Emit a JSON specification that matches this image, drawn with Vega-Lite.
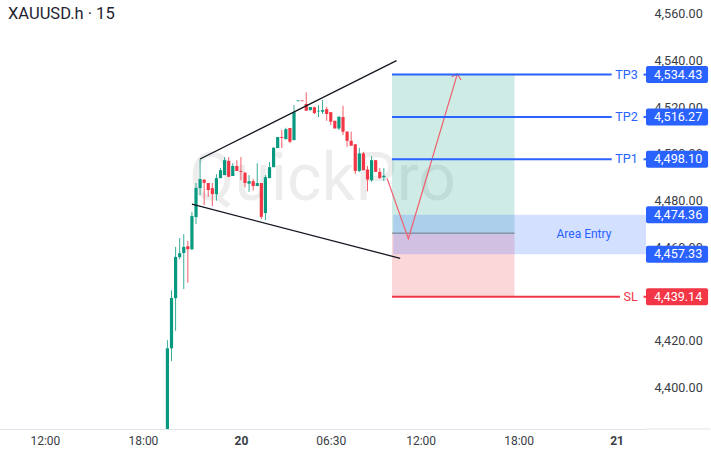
{
  "$schema": "https://vega.github.io/schema/vega-lite/v6.json",
  "description": "XAUUSD 15 minute candles with a trade plan drawn over them.",
  "width": 646,
  "height": 429,
  "autosize": "none",
  "padding": {"left": 0, "top": 0, "right": 65, "bottom": 27},
  "background": "white",
  "title": {
    "text": "XAUUSD.h · 15",
    "anchor": "start",
    "frame": "group",
    "dx": 8,
    "dy": 26,
    "font": "Roboto",
    "fontSize": 16.5,
    "fontWeight": "normal",
    "color": "#1f2430"
  },
  "config": {
    "view": {"stroke": null},
    "font": "Roboto"
  },
  "datasets": {
    "candles": [
      {"x": 30, "open": 4375, "high": 4420.1, "low": 4370, "close": 4416.6},
      {"x": 31, "open": 4416.6, "high": 4441.5, "low": 4411.1, "close": 4438.2},
      {"x": 32, "open": 4438.1, "high": 4460.1, "low": 4424.1, "close": 4455.8},
      {"x": 33, "open": 4455.7, "high": 4463.9, "low": 4454.8, "close": 4457.4},
      {"x": 34, "open": 4457.5, "high": 4465.6, "low": 4442.0, "close": 4460.1},
      {"x": 35, "open": 4460.4, "high": 4462.7, "low": 4444.7, "close": 4459.1},
      {"x": 36, "open": 4459.1, "high": 4475.1, "low": 4458.7, "close": 4473.3},
      {"x": 37, "open": 4472.9, "high": 4487.5, "low": 4469.9, "close": 4485.4},
      {"x": 38, "open": 4485.3, "high": 4497.8, "low": 4482.3, "close": 4489.2},
      {"x": 39, "open": 4488.9, "high": 4489.2, "low": 4478.0, "close": 4487.6},
      {"x": 40, "open": 4487.5, "high": 4487.5, "low": 4481.6, "close": 4484.5},
      {"x": 41, "open": 4485.3, "high": 4487.5, "low": 4477.6, "close": 4482.7},
      {"x": 42, "open": 4482.7, "high": 4491.3, "low": 4479.9, "close": 4489.6},
      {"x": 43, "open": 4489.6, "high": 4493.9, "low": 4489.6, "close": 4493.0},
      {"x": 44, "open": 4490.9, "high": 4498.6, "low": 4490.9, "close": 4497.3},
      {"x": 45, "open": 4497.0, "high": 4498.6, "low": 4490.0, "close": 4490.2},
      {"x": 46, "open": 4490.5, "high": 4496.0, "low": 4490.5, "close": 4494.8},
      {"x": 47, "open": 4494.8, "high": 4497.3, "low": 4492.7, "close": 4492.7},
      {"x": 48, "open": 4492.7, "high": 4498.6, "low": 4488.7, "close": 4492.3},
      {"x": 49, "open": 4491.9, "high": 4492.2, "low": 4485.7, "close": 4487.5},
      {"x": 50, "open": 4487.2, "high": 4490.9, "low": 4483.7, "close": 4488.3},
      {"x": 51, "open": 4488.3, "high": 4489.2, "low": 4484.2, "close": 4486.2},
      {"x": 52, "open": 4486.2, "high": 4496.0, "low": 4486.2, "close": 4487.5},
      {"x": 53, "open": 4487.5, "high": 4487.5, "low": 4472.0, "close": 4473.0},
      {"x": 54, "open": 4474.6, "high": 4490.9, "low": 4471.6, "close": 4490.0},
      {"x": 55, "open": 4489.6, "high": 4496.5, "low": 4489.6, "close": 4494.3},
      {"x": 56, "open": 4494.3, "high": 4502.9, "low": 4494.3, "close": 4502.6},
      {"x": 57, "open": 4502.5, "high": 4507.2, "low": 4502.5, "close": 4507.2},
      {"x": 58, "open": 4507.2, "high": 4510.2, "low": 4502.5, "close": 4506.8},
      {"x": 59, "open": 4506.3, "high": 4511.2, "low": 4506.3, "close": 4510.6},
      {"x": 60, "open": 4511.1, "high": 4511.1, "low": 4504.6, "close": 4505.2},
      {"x": 61, "open": 4505.9, "high": 4520.9, "low": 4505.9, "close": 4517.9},
      {"x": 62, "open": 4522.6, "high": 4522.9, "low": 4522.6, "close": 4522.9},
      {"x": 63, "open": 4522.9, "high": 4522.9, "low": 4522.6, "close": 4522.6},
      {"x": 64, "open": 4521.4, "high": 4526.4, "low": 4518.4, "close": 4518.5},
      {"x": 65, "open": 4518.8, "high": 4520.1, "low": 4518.5, "close": 4520.1},
      {"x": 66, "open": 4520.0, "high": 4520.2, "low": 4517.1, "close": 4517.5},
      {"x": 67, "open": 4518.2, "high": 4520.9, "low": 4515.8, "close": 4518.5},
      {"x": 68, "open": 4518.1, "high": 4523.1, "low": 4517.1, "close": 4518.8},
      {"x": 69, "open": 4519.2, "high": 4520.2, "low": 4514.2, "close": 4517.1},
      {"x": 70, "open": 4517.9, "high": 4517.9, "low": 4512.4, "close": 4513.8},
      {"x": 71, "open": 4514.2, "high": 4514.2, "low": 4510.9, "close": 4510.9},
      {"x": 72, "open": 4510.9, "high": 4516.2, "low": 4510.2, "close": 4515.9},
      {"x": 73, "open": 4515.8, "high": 4520.6, "low": 4508.1, "close": 4509.5},
      {"x": 74, "open": 4509.5, "high": 4509.8, "low": 4503.0, "close": 4505.6},
      {"x": 75, "open": 4505.6, "high": 4509.5, "low": 4503.5, "close": 4503.5},
      {"x": 76, "open": 4504.1, "high": 4504.2, "low": 4491.3, "close": 4492.7},
      {"x": 77, "open": 4492.7, "high": 4502.6, "low": 4492.2, "close": 4500.2},
      {"x": 78, "open": 4500.2, "high": 4500.9, "low": 4493.0, "close": 4493.0},
      {"x": 79, "open": 4493.3, "high": 4494.8, "low": 4484.0, "close": 4489.0},
      {"x": 80, "open": 4488.7, "high": 4499.0, "low": 4488.0, "close": 4497.3},
      {"x": 81, "open": 4497.3, "high": 4497.3, "low": 4492.3, "close": 4492.3},
      {"x": 82, "open": 4492.3, "high": 4493.9, "low": 4489.2, "close": 4489.7},
      {"x": 83, "open": 4490.0, "high": 4493.9, "low": 4488.3, "close": 4490.6}
    ],
    "boxes": [
      {"x": 85, "x2": 115, "price": 4534.43, "price2": 4466, "kind": "target zone"},
      {"x": 85, "x2": 115, "price": 4466, "price2": 4439.14, "kind": "stop zone"},
      {"x": 85.3, "x2": 147.2, "price": 4474.36, "price2": 4457.33, "kind": "entry zone"}
    ],
    "segments": [
      {"x": 85, "x2": 138.8, "price": 4534.43, "kind": "target"},
      {"x": 146.6, "x2": 147.2, "price": 4534.43, "kind": "target"},
      {"x": 85, "x2": 138.8, "price": 4516.27, "kind": "target"},
      {"x": 146.6, "x2": 147.2, "price": 4516.27, "kind": "target"},
      {"x": 85, "x2": 138.8, "price": 4498.1, "kind": "target"},
      {"x": 146.6, "x2": 147.2, "price": 4498.1, "kind": "target"},
      {"x": 85, "x2": 140.8, "price": 4439.14, "kind": "stop"},
      {"x": 146.6, "x2": 147.2, "price": 4439.14, "kind": "stop"}
    ],
    "tags": [
      {"x": 145.2, "price": 4534.43, "name": "TP3", "kind": "target"},
      {"x": 145.2, "price": 4516.27, "name": "TP2", "kind": "target"},
      {"x": 145.2, "price": 4498.1, "name": "TP1", "kind": "target"},
      {"x": 145.2, "price": 4439.14, "name": "SL", "kind": "stop"}
    ],
    "pills": [
      {"x": 147.2, "x2": 162.4, "price": 4534.43, "kind": "target"},
      {"x": 147.2, "x2": 162.4, "price": 4516.27, "kind": "target"},
      {"x": 147.2, "x2": 162.4, "price": 4498.1, "kind": "target"},
      {"x": 147.2, "x2": 162.4, "price": 4474.36, "kind": "target"},
      {"x": 147.2, "x2": 162.4, "price": 4457.33, "kind": "target"},
      {"x": 147.2, "x2": 162.4, "price": 4439.14, "kind": "stop"}
    ],
    "trendlines": [
      {"series": "upper", "step": 0, "x": 38, "price": 4497.8, "kind": "trend"},
      {"series": "upper", "step": 1, "x": 86.1, "price": 4540, "kind": "trend"},
      {"series": "lower", "step": 0, "x": 36, "price": 4478.4, "kind": "trend"},
      {"series": "lower", "step": 1, "x": 87, "price": 4455.2, "kind": "trend"}
    ],
    "projection": [
      {"series": "path", "step": 0, "x": 83.8, "price": 4489.5, "kind": "path"},
      {"series": "path", "step": 1, "x": 89, "price": 4463.6, "kind": "path"},
      {"series": "path", "step": 2, "x": 101, "price": 4534.3, "kind": "path"},
      {"series": "head", "step": 0, "x": 99.6, "price": 4533.1, "kind": "path"},
      {"series": "head", "step": 1, "x": 101, "price": 4534.3, "kind": "path"},
      {"series": "head", "step": 2, "x": 101.9, "price": 4531.7, "kind": "path"}
    ]
  },
  "encoding": {
    "x": {
      "field": "x",
      "type": "quantitative",
      "scale": {"domain": [-11, 147.2], "nice": false, "zero": false, "padding": 0},
      "axis": {
        "title": null,
        "grid": false,
        "ticks": false,
        "orient": "bottom",
        "values": [0, 24, 48, 70, 92, 116, 140],
        "labelExpr": "datum.value==0?'12:00':datum.value==24?'18:00':datum.value==48?'20':datum.value==70?'06:30':datum.value==92?'12:00':datum.value==116?'18:00':'21'",
        "labelFontWeight": {"condition": {"test": "datum.value==48||datum.value==140", "value": "bold"}, "value": "normal"},
        "labelFont": "Roboto",
        "labelFontSize": 12,
        "labelColor": "#3a3d45",
        "labelPadding": 6,
        "labelOverlap": false,
        "labelFlush": false,
        "domainColor": "#e0e3eb",
        "domainWidth": 1
      }
    },
    "y": {
      "field": "price",
      "type": "quantitative",
      "scale": {"domain": [4382, 4566], "nice": false, "zero": false, "padding": 0},
      "axis": {
        "title": null,
        "grid": false,
        "ticks": false,
        "domain": false,
        "orient": "right",
        "values": [4400, 4420, 4440, 4460, 4480, 4500, 4520, 4540, 4560],
        "format": ",.2f",
        "labelFont": "Roboto",
        "labelFontSize": 12.6,
        "labelColor": "#3a3d45",
        "labelPadding": 8,
        "labelOverlap": false,
        "labelFlush": false
      }
    },
    "color": {
      "field": "kind",
      "type": "nominal",
      "legend": null,
      "scale": {
        "domain": ["target zone", "stop zone", "entry zone", "target", "stop", "trend", "path", "middle", "axis"],
        "range": ["rgba(8,153,129,0.2)", "rgba(242,54,69,0.2)", "rgba(41,98,255,0.2)", "#2962ff", "#f23645", "#131722", "#f0606f", "#7a7488", "#e0e3eb"]
      }
    }
  },
  "layer": [
    {
      "data": {"values": [{"x": 68, "price": 4488.7, "word": "QuickPro"}]},
      "mark": {"type": "text", "font": "Roboto", "fontSize": 66, "align": "center", "baseline": "middle"},
      "encoding": {
        "text": {"field": "word"},
        "color": {"value": "rgba(0,0,0,0.07)"}
      }
    },
    {
      "data": {"name": "boxes"},
      "mark": {"type": "rect", "yOffset": 1, "y2Offset": 1},
      "encoding": {
        "x2": {"field": "x2"},
        "y2": {"field": "price2"}
      }
    },
    {
      "data": {"values": [{"x": 85, "x2": 115, "price": 4466, "kind": "middle"}]},
      "mark": {"type": "rule", "strokeWidth": 1},
      "encoding": {"x2": {"field": "x2"}}
    },
    {
      "data": {"values": [{"x": 147.3, "x2": 163, "price": 4382, "kind": "axis"}]},
      "mark": {"type": "rule", "strokeWidth": 1},
      "encoding": {"x2": {"field": "x2"}}
    },
    {
      "data": {"name": "candles"},
      "mark": {"type": "rule", "strokeWidth": 1, "clip": true, "opacity": 0.8},
      "encoding": {
        "y": {"field": "low", "type": "quantitative", "scale": {"domain": [4382, 4566], "nice": false, "zero": false, "padding": 0}},
        "y2": {"field": "high"},
        "color": {"condition": {"test": "datum.close >= datum.open", "value": "#089981"}, "value": "#f23645"}
      }
    },
    {
      "data": {"name": "candles"},
      "mark": {"type": "bar", "width": 3.2, "clip": true},
      "encoding": {
        "y": {"field": "open", "type": "quantitative", "scale": {"domain": [4382, 4566], "nice": false, "zero": false, "padding": 0}},
        "y2": {"field": "close"},
        "color": {"condition": {"test": "datum.close >= datum.open", "value": "#089981"}, "value": "#f23645"}
      }
    },
    {
      "data": {"name": "trendlines"},
      "mark": {"type": "line", "strokeWidth": 1.3},
      "encoding": {
        "detail": {"field": "series"},
        "order": {"field": "step", "type": "quantitative"}
      }
    },
    {
      "data": {"name": "projection"},
      "mark": {"type": "line", "strokeWidth": 1.2},
      "encoding": {
        "detail": {"field": "series"},
        "order": {"field": "step", "type": "quantitative"}
      }
    },
    {
      "data": {"name": "segments"},
      "mark": {"type": "rule", "strokeWidth": 2, "yOffset": 1},
      "encoding": {"x2": {"field": "x2"}}
    },
    {
      "data": {"name": "tags"},
      "mark": {"type": "text", "align": "right", "baseline": "middle", "font": "Roboto", "fontSize": 12.6, "yOffset": 1},
      "encoding": {"text": {"field": "name"}}
    },
    {
      "data": {"values": [{"x": 132, "price": 4465.8, "name": "Area Entry", "kind": "target"}]},
      "mark": {"type": "text", "align": "center", "baseline": "middle", "font": "Roboto", "fontSize": 12},
      "encoding": {"text": {"field": "name"}}
    },
    {
      "data": {"name": "pills"},
      "mark": {"type": "bar", "orient": "horizontal", "height": 17, "cornerRadius": 2, "yOffset": 1},
      "encoding": {
        "x2": {"field": "x2"}
      }
    },
    {
      "data": {"name": "pills"},
      "mark": {"type": "text", "align": "left", "baseline": "middle", "font": "Roboto", "fontSize": 12.6, "yOffset": 1, "xOffset": 8},
      "encoding": {
        "text": {"field": "price", "type": "quantitative", "format": ",.2f"},
        "color": {"value": "white"}
      }
    }
  ]
}
